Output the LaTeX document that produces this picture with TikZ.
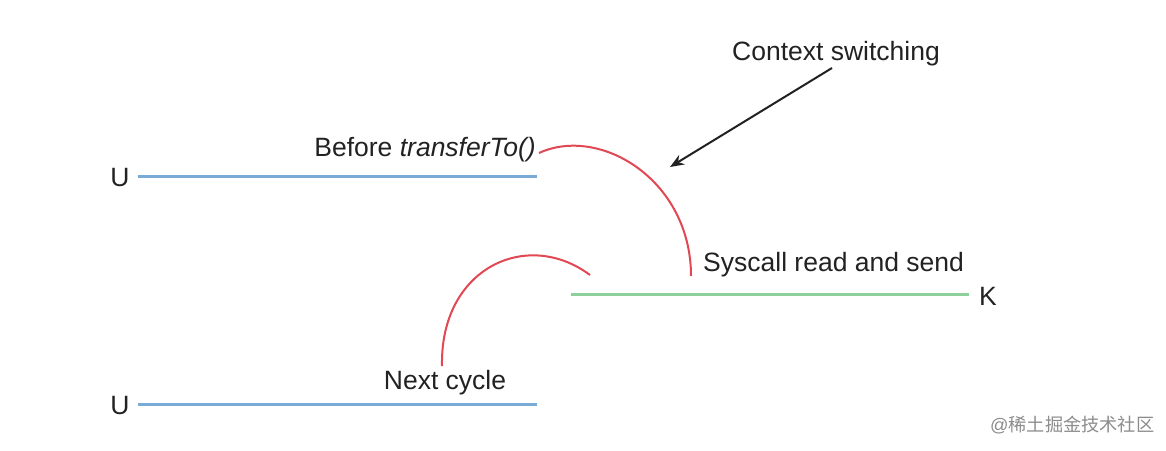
\documentclass[tikz,border=0pt]{standalone}
\usepackage{fontspec}
\setmainfont{Liberation Sans}
\newfontfamily\cjk{Noto Sans CJK SC}
\usetikzlibrary{arrows.meta}
\definecolor{ublue}{RGB}{122,170,214}
\definecolor{kgreen}{RGB}{140,208,155}
\definecolor{arcred}{RGB}{226,72,84}
\definecolor{txt}{RGB}{34,34,34}
\begin{document}
\begin{tikzpicture}[x=1pt,y=-1pt,
  lbl/.style={inner sep=0pt,text=txt,font=\fontsize{26.5}{31}\selectfont},
  uline/.style={ublue,line width=3pt},
  kline/.style={kgreen,line width=3pt},
  switcharc/.style={arcred,line width=2pt},
  pointer/.style={txt,line width=2pt,-{Stealth[length=14pt,width=11pt]}}]
\useasboundingbox (0,0) rectangle (1166,450);
\fill[white] (0,0) rectangle (1166,450);
% top U
\node[lbl] (u1) at (120,178) {U};
\coordinate (u1a) at (138,176);
\coordinate (u1b) at (537,176);
\draw[uline] (u1a) -- (u1b);
\node[lbl,anchor=east] (before) at (536,150) {Before \textit{transferTo()}};
% K
\node[lbl] (k) at (988,296) {K};
\coordinate (ka) at (571,294);
\coordinate (kb) at (969,294);
\draw[kline] (ka) -- (kb);
\node[lbl,anchor=west] (sys) at (703,265) {Syscall read and send};
% bottom U
\node[lbl] (u2) at (120,406) {U};
\coordinate (u2a) at (138,404);
\coordinate (u2b) at (537,404);
\draw[uline] (u2a) -- (u2b);
\node[lbl] (next) at (445,383) {Next cycle};
% arcs
\coordinate (a1s) at (539,153);
\coordinate (a1e) at (691,276);
\draw[switcharc] (a1s) .. controls (600,125) and (691,180) .. (a1e);
\coordinate (a2s) at (442,366);
\coordinate (a2e) at (590,275);
\draw[switcharc] (a2s) .. controls (440,268) and (527,228) .. (a2e);
% context switching
\node[lbl] (ctx) at (836,54) {Context switching};
\coordinate (tip) at (670,167);
\draw[pointer] (832,68) -- (tip);
% watermark
\node[inner sep=0pt,text=black!45,font=\fontsize{18.2}{21}\selectfont,anchor=west] (wm) at (990,425) {@{\cjk 稀土掘金技术社区}};
\end{tikzpicture}
\end{document}
